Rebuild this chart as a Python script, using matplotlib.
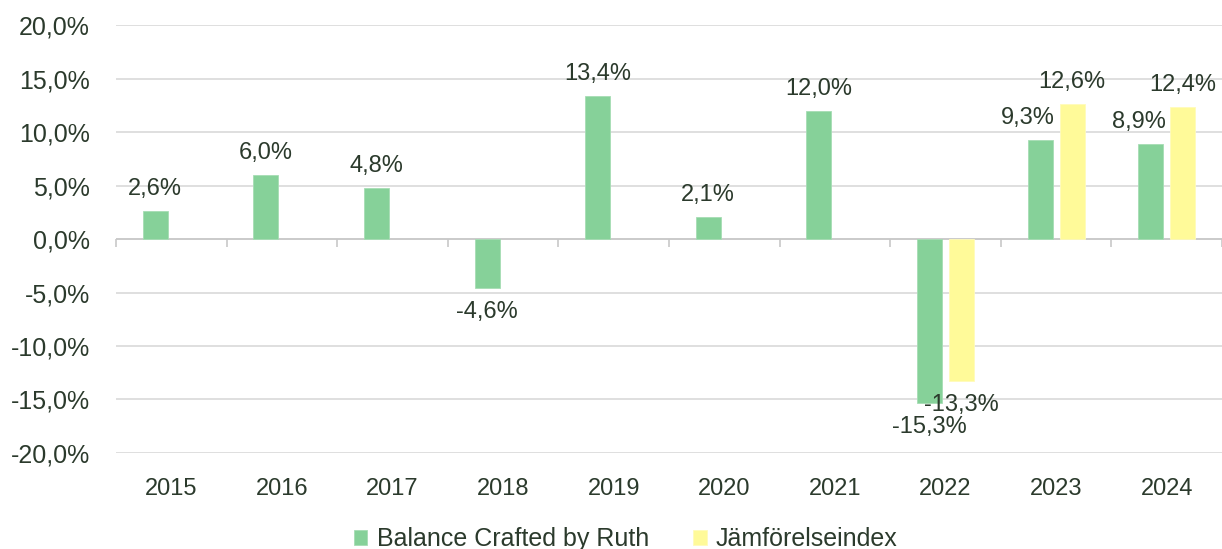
import matplotlib.pyplot as plt
import numpy as np

# data
years = ['2015', '2016', '2017', '2018', '2019', '2020', '2021', '2022', '2023', '2024']
balance = [2.6, 6.0, 4.8, -4.6, 13.4, 2.1, 12.0, -15.3, 9.3, 8.9]
index = [None, None, None, None, None, None, None, -13.3, 12.6, 12.4]
serie_names = ['Balance Crafted by Ruth', 'Jämförelseindex']

green = '#86d199'
yellow = '#fffa99'
txt = '#2b3a2c'
grid_c = '#d9d9d9'

plt.rcParams['font.family'] = ['Liberation Sans', 'DejaVu Sans']

fig = plt.figure(figsize=(12.22, 5.49), dpi=100)
ax = fig.add_axes([0.095, 0.175, 0.905, 0.779])

x = np.arange(len(years))
w = 0.226
off = 0.145


def fmt(v):
    return f'{v:.1f}%'.replace('.', ',')


def etiqueta(xp, v, dx=0):
    if v >= 0:
        ax.annotate(fmt(v), (xp, v), xytext=(dx, 11), textcoords='offset pixels',
                    ha='center', va='bottom', fontsize=17, color=txt)
    else:
        ax.annotate(fmt(v), (xp, v), xytext=(dx, -13), textcoords='offset pixels',
                    ha='center', va='top', fontsize=17, color=txt)


ax.bar(x - off, balance, w, color=green, edgecolor='#a6ddb4', linewidth=0.6,
       label=serie_names[0], zorder=3)
xi = [xx + off for xx, v in zip(x, index) if v is not None]
vi = [v for v in index if v is not None]
ax.bar(xi, vi, w, color=yellow, edgecolor='#fffbbb', linewidth=0.6,
       label=serie_names[1], zorder=3)

for i, v in enumerate(balance):
    par = index[i] is not None and index[i] > 0
    etiqueta(x[i] - off, v, dx=-12 if par else 0)
for xx, v in zip(xi, vi):
    etiqueta(xx, v)

ax.set_ylim(-20, 20)
ax.set_xlim(-0.5, len(years) - 0.5)
ax.set_yticks(np.arange(-20, 21, 5))
ax.set_yticklabels([fmt(t) for t in np.arange(-20, 21, 5)])
ax.yaxis.grid(True, color=grid_c, linewidth=1.2, zorder=0)
ax.set_axisbelow(True)

# linea cero con marcas entre categorias
ax.axhline(0, color='#c8c8c8', linewidth=1.2, zorder=2)
bordes = np.arange(len(years) + 1) - 0.5
ax.vlines(bordes, -0.75, 0, color='#c8c8c8', linewidth=1.2, zorder=2, clip_on=False)

ax.set_xticks(x)
ax.set_xticklabels(years)
ax.tick_params(axis='x', length=0, pad=18, labelsize=17, labelcolor=txt)
ax.tick_params(axis='y', length=0, pad=19, labelsize=18, labelcolor=txt)
for s in ax.spines.values():
    s.set_visible(False)

fig.legend(loc='lower center', bbox_to_anchor=(0.512, -0.045), ncol=2, frameon=False,
           fontsize=18, labelcolor=txt, handlelength=0.55, handleheight=0.55,
           handletextpad=0.38, columnspacing=1.75)

fig.savefig('out.png', dpi=100)
